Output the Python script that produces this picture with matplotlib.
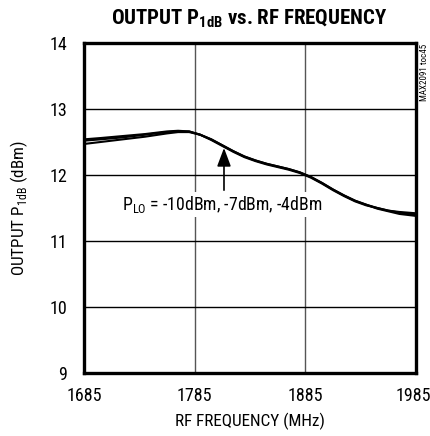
import matplotlib
matplotlib.use("Agg")
import matplotlib.pyplot as plt
import matplotlib.transforms as mtransforms
from matplotlib import font_manager as fm

names = {f.name for f in fm.fontManager.ttflist}
fam = 'Liberation Sans'
for cand in ['Liberation Sans Narrow', 'Roboto Condensed', 'Open Sans Condensed', 'DejaVu Sans Condensed']:
    if cand in names:
        fam = cand
        break
plt.rcParams['font.family'] = [fam, 'DejaVu Sans']

freq = [1685, 1700, 1720, 1740, 1760, 1770, 1780, 1790, 1800, 1810, 1820, 1830, 1840,
        1850, 1860, 1870, 1880, 1890, 1900, 1910, 1920, 1930, 1940, 1950, 1960, 1970, 1985]
p_m10 = [12.54, 12.56, 12.59, 12.62, 12.66, 12.67, 12.66, 12.61, 12.53, 12.44, 12.35, 12.27, 12.21,
         12.16, 12.12, 12.08, 12.03, 11.96, 11.87, 11.77, 11.68, 11.60, 11.54, 11.50, 11.46, 11.44, 11.42]
p_m7 = [12.52, 12.54, 12.57, 12.61, 12.65, 12.66, 12.66, 12.61, 12.54, 12.45, 12.36, 12.28, 12.22,
        12.17, 12.13, 12.09, 12.04, 11.97, 11.88, 11.78, 11.69, 11.61, 11.55, 11.50, 11.46, 11.43, 11.40]
p_m4 = [12.47, 12.50, 12.54, 12.58, 12.63, 12.65, 12.65, 12.61, 12.54, 12.45, 12.36, 12.28, 12.22,
        12.17, 12.13, 12.09, 12.04, 11.97, 11.88, 11.78, 11.69, 11.61, 11.55, 11.49, 11.45, 11.41, 11.38]
xticks = [1685, 1785, 1885, 1985]
yticks = [9, 10, 11, 12, 13, 14]

fig = plt.figure(figsize=(4.31, 4.36), dpi=100)
ax = fig.add_axes([0.1949, 0.1445, 0.7703, 0.7569])

for s in (p_m10, p_m7, p_m4):
    ax.plot(freq, s, color='black', lw=1.5, solid_capstyle='butt')

ax.set_xlim(1685, 1985)
ax.set_ylim(9, 14)
ax.set_xticks(xticks)
ax.set_yticks(yticks)
ax.set_xticklabels([str(v) for v in xticks])
ax.set_yticklabels([str(v) for v in yticks])
ax.tick_params(axis='both', length=0, labelsize=13)
ax.tick_params(axis='y', pad=12)
ax.tick_params(axis='x', pad=10)
# keep the last x label inside the canvas
last = ax.get_xticklabels()[-1]
last.set_transform(last.get_transform() + mtransforms.ScaledTranslation(-3 / 100, 0, fig.dpi_scale_trans))
for x in xticks[1:-1]:
    ax.axvline(x, color='#555555', lw=1.0, zorder=0)
for y in yticks[1:-1]:
    ax.axhline(y, color='black', lw=1.0, zorder=0)
for sp in ax.spines.values():
    sp.set_linewidth(2.4)

ax.set_xlabel('RF FREQUENCY (MHz)', fontsize=12.3, labelpad=6)
ax.set_ylabel(r'OUTPUT P$_\mathregular{1dB}$ (dBm)', fontsize=12.3, labelpad=14)
fig.text(0.578, 0.957, r'OUTPUT P$_\mathregular{1dB}$ vs. RF FREQUENCY', ha='center', va='center',
         fontsize=15, fontweight='bold')

ax.annotate('', xy=(1811.5, 12.41), xytext=(1811.5, 11.77),
            arrowprops=dict(arrowstyle='-|>,head_length=0.8,head_width=0.3', color='black',
                            lw=1.2, mutation_scale=14, shrinkA=0, shrinkB=0))
ax.text(1810, 11.55, r'P$_\mathregular{LO}$ = -10dBm, -7dBm, -4dBm', ha='center', va='center',
        fontsize=12.8, bbox=dict(facecolor='white', edgecolor='none', pad=1.5))

fig.text(0.985, 0.835, 'MAX2091 toc45', rotation=90, ha='center', va='center', fontsize=6.5)

fig.savefig('out.png', dpi=100)
